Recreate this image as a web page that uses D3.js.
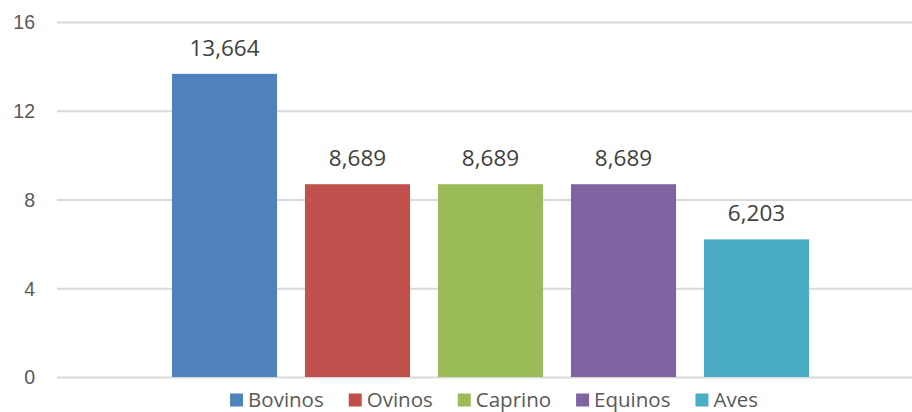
<!DOCTYPE html>
<html>
<head>
<meta charset="utf-8">
<script src="https://cdn.jsdelivr.net/npm/d3@7"></script>
<style>
  html, body { margin: 0; padding: 0; background: #fff; }
  svg { display: block; font-family: "Open Sans", "Noto Sans", sans-serif; }
</style>
</head>
<body>
<svg id="chart" width="912" height="412"></svg>
<script>
const categories = ["Bovinos", "Ovinos", "Caprino", "Equinos", "Aves"];
const values = [13.664, 8.689, 8.689, 8.689, 6.203];
const colors = ["#4F81BD", "#C0504D", "#9BBB59", "#8064A2", "#4BACC6"];
const yTicks = [0, 4, 8, 12, 16];

const svg = d3.select("#chart");
const plot = { left: 57, right: 912, top: 22, bottom: 377 };

const y = d3.scaleLinear().domain([0, 16]).range([plot.bottom, plot.top]);
const x = d3.scaleBand().domain(categories).range([158, 823])
  .paddingInner(0.21).paddingOuter(0.105);

const locale = d3.formatLocale({ decimal: ",", thousands: ".", grouping: [3], currency: ["", ""] });
const fmt = locale.format(".3f");

// gridlines + y tick labels
const yAxis = d3.axisLeft(y).tickValues(yTicks).tickSize(-(plot.right - plot.left)).tickPadding(22).tickFormat(d3.format("d"));
const gAxis = svg.append("g").attr("transform", `translate(${plot.left},0)`).call(yAxis);
gAxis.select(".domain").remove();
gAxis.selectAll(".tick line").attr("stroke", "#D9D9D9").attr("stroke-width", 2);
gAxis.selectAll(".tick text").attr("fill", "#595959").style("font-size", "19.5px").attr("dy", "0.35em");

// bars
svg.append("g").selectAll("rect").data(values).join("rect")
  .attr("x", (d, i) => x(categories[i]))
  .attr("y", d => y(d))
  .attr("width", x.bandwidth())
  .attr("height", d => y(0) - y(d))
  .attr("fill", (d, i) => colors[i]);

// data labels
svg.append("g").selectAll("text").data(values).join("text")
  .attr("x", (d, i) => x(categories[i]) + x.bandwidth() / 2)
  .attr("y", d => y(d) - 18)
  .attr("text-anchor", "middle")
  .attr("fill", "#404040")
  .style("font-size", "22.5px")
  .text(d => fmt(d));

// legend
const legend = svg.append("g");
const items = legend.selectAll("g").data(categories).join("g");
items.append("rect").attr("width", 13).attr("height", 13).attr("y", -6.5)
  .attr("fill", (d, i) => colors[i]);
items.append("text").attr("x", 18).attr("dy", "0.35em")
  .attr("fill", "#595959").style("font-size", "20.5px").text(d => d);
let cx = 0;
const gap = 25;
const widths = [];
items.each(function() { widths.push(this.getBBox().width); });
const total = widths.reduce((a, b) => a + b, 0) + gap * (widths.length - 1);
const start = 494 - total / 2;
items.attr("transform", (d, i) => {
  const t = `translate(${start + cx},400)`;
  cx += widths[i] + gap;
  return t;
});
</script>
</body>
</html>
